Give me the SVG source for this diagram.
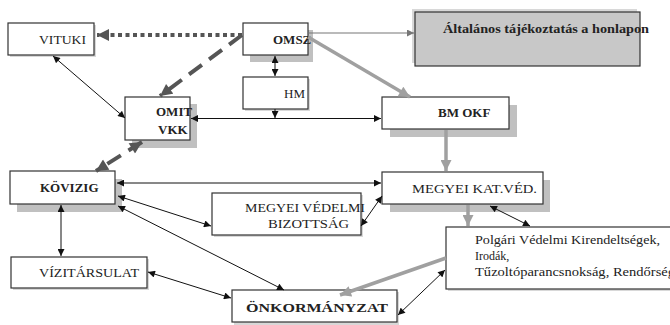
<svg xmlns="http://www.w3.org/2000/svg" width="670" height="325" viewBox="0 0 670 325" font-family="Liberation Serif, Times New Roman, serif">
<style>
.box{fill:#fff;stroke:#333;stroke-width:1.2}
.sh{fill:#c0c0c0}
.shl{fill:#d8d8d8}
text{font-size:13px;fill:#222}
.b{font-weight:bold}
.thin{stroke:#111;stroke-width:1;fill:none}
.gray{stroke:#a0a0a0;stroke-width:3.5;fill:none}
.dark{stroke:#555;stroke-width:4;fill:none}
</style>
<defs>
<marker id="a" viewBox="0 0 10 10" refX="10" refY="5" markerUnits="userSpaceOnUse" markerWidth="8" markerHeight="7" orient="auto"><path d="M0,0L10,5L0,10z" fill="#111"/></marker>
<marker id="as" viewBox="0 0 10 10" refX="0" refY="5" markerUnits="userSpaceOnUse" markerWidth="8" markerHeight="7" orient="auto"><path d="M10,0L0,5L10,10z" fill="#111"/></marker>
<marker id="ag" viewBox="0 0 10 10" refX="10" refY="5" markerUnits="userSpaceOnUse" markerWidth="12" markerHeight="11" orient="auto"><path d="M0,0L10,5L0,10z" fill="#a0a0a0"/></marker>
<marker id="ag2" viewBox="0 0 10 10" refX="10" refY="5" markerUnits="userSpaceOnUse" markerWidth="7" markerHeight="7" orient="auto"><path d="M0,0L10,5L0,10z" fill="#777"/></marker>
<marker id="ad" viewBox="0 0 10 10" refX="10" refY="5" markerUnits="userSpaceOnUse" markerWidth="13" markerHeight="12" orient="auto"><path d="M0,0L10,5L0,10z" fill="#555"/></marker>
<marker id="ads" viewBox="0 0 10 10" refX="0" refY="5" markerUnits="userSpaceOnUse" markerWidth="13" markerHeight="12" orient="auto"><path d="M10,0L0,5L10,10z" fill="#555"/></marker>
</defs>

<g id="vituki">
<rect class="shl" x="10" y="25" width="86" height="32"/>
<rect class="box" x="8" y="23" width="86" height="32"/>
<text x="39" y="44" textLength="47" lengthAdjust="spacingAndGlyphs">VITUKI</text>
</g>
<g id="omsz">
<rect class="sh" x="250" y="30" width="63" height="32"/>
<rect class="box" x="243" y="23" width="65" height="32"/>
<text class="b" x="273" y="44">OMSZ</text>
</g>
<g id="hm">
<rect class="shl" x="245" y="79" width="65" height="32"/>
<rect class="box" x="243" y="77" width="65" height="32"/>
<text x="284" y="98">HM</text>
</g>
<g id="omit">
<rect class="sh" x="132" y="104" width="65" height="44"/>
<rect class="box" x="125" y="97" width="65" height="43"/>
<text class="b" x="156" y="116">OMIT</text>
<text class="b" x="158" y="134">VKK</text>
</g>
<g id="bmokf">
<rect class="sh" x="390" y="105" width="127" height="32"/>
<rect class="box" x="382" y="97" width="127" height="32"/>
<text class="b" x="438" y="117">BM OKF</text>
</g>
<g id="altalanos">
<rect class="shl" x="412" y="9" width="225" height="54"/>
<rect x="415" y="12" width="225" height="54" fill="#c8c8c8" stroke="#333" stroke-width="1.2"/>
<text class="b" x="443" y="33" textLength="206" lengthAdjust="spacingAndGlyphs">Általános tájékoztatás a honlapon</text>
</g>
<g id="kovizig">
<rect class="sh" x="17" y="179" width="105" height="33"/>
<rect class="box" x="10" y="171" width="105" height="33"/>
<text class="b" x="40" y="192">KÖVIZIG</text>
</g>
<g id="mvb">
<rect class="shl" x="214" y="195" width="149" height="42"/>
<rect class="box" x="212" y="193" width="149" height="42"/>
<text x="245" y="212" textLength="120" lengthAdjust="spacingAndGlyphs">MEGYEI VÉDELMI</text>
<text x="268" y="228" textLength="81" lengthAdjust="spacingAndGlyphs">BIZOTTSÁG</text>
</g>
<g id="mkv">
<rect class="sh" x="390" y="180" width="160" height="32"/>
<rect class="box" x="382" y="172" width="161" height="32"/>
<text x="412" y="193" textLength="125" lengthAdjust="spacingAndGlyphs">MEGYEI KAT.VÉD.</text>
</g>
<g id="polgari">
<rect class="shl" x="448" y="229" width="230" height="62"/>
<rect class="box" x="446" y="227" width="230" height="62"/>
<text x="475" y="244" style="font-size:12px" textLength="185" lengthAdjust="spacingAndGlyphs">Polgári Védelmi Kirendeltségek,</text>
<text x="475" y="260" style="font-size:12px">Irodák,</text>
<text x="475" y="276" style="font-size:12px" textLength="200" lengthAdjust="spacingAndGlyphs">Tűzoltóparancsnokság, Rendőrség</text>
</g>
<g id="vizitarsulat">
<rect class="shl" x="13" y="259" width="136" height="31"/>
<rect class="box" x="11" y="257" width="136" height="31"/>
<text x="39" y="277" textLength="100" lengthAdjust="spacingAndGlyphs">VÍZITÁRSULAT</text>
</g>
<g id="onkormanyzat">
<rect class="shl" x="234" y="292" width="165" height="33"/>
<rect class="box" x="232" y="290" width="165" height="32"/>
<text class="b" x="246" y="312" textLength="142" lengthAdjust="spacingAndGlyphs">ÖNKORMÁNYZAT</text>
</g>

<g id="connectors">
<line class="dark" x1="242" y1="35" x2="97" y2="35" stroke-dasharray="4 3.5" marker-end="url(#ad)"/>
<line x1="308" y1="33" x2="414" y2="33" stroke="#777" stroke-width="1.2" marker-end="url(#ag2)"/>
<line class="gray" x1="308" y1="37" x2="410" y2="97" marker-end="url(#ag)"/>
<line class="dark" x1="242" y1="35" x2="160" y2="96" stroke-dasharray="16 9" marker-end="url(#ad)"/>
<line class="dark" x1="142" y1="142" x2="96" y2="171" stroke-dasharray="16 9" marker-start="url(#ads)" marker-end="url(#ad)"/>
<line class="thin" x1="53" y1="56" x2="125" y2="118" marker-start="url(#as)" marker-end="url(#a)"/>
<line class="thin" x1="275" y1="56" x2="275" y2="76" marker-start="url(#as)" marker-end="url(#a)"/>
<line class="thin" x1="275" y1="109" x2="275" y2="118" marker-end="url(#a)"/>
<line class="thin" x1="191" y1="118.5" x2="381" y2="118.5" marker-start="url(#as)" marker-end="url(#a)"/>
<line class="gray" x1="446" y1="130" x2="446" y2="171" marker-end="url(#ag)"/>
<line class="thin" x1="117" y1="183" x2="381" y2="183" marker-start="url(#as)" marker-end="url(#a)"/>
<line class="thin" x1="118" y1="196" x2="211" y2="226" marker-start="url(#as)" marker-end="url(#a)"/>
<line class="thin" x1="361" y1="226" x2="382" y2="196" marker-start="url(#as)" marker-end="url(#a)"/>
<line class="thin" x1="118" y1="206" x2="284" y2="290" marker-start="url(#as)" marker-end="url(#a)"/>
<line class="thin" x1="61" y1="205" x2="61" y2="256" marker-start="url(#as)" marker-end="url(#a)"/>
<line class="thin" x1="148" y1="272" x2="231" y2="298" marker-start="url(#as)" marker-end="url(#a)"/>
<line class="gray" x1="468" y1="205" x2="468" y2="226" marker-end="url(#ag)"/>
<line class="thin" x1="490" y1="206" x2="530" y2="226" marker-start="url(#as)" marker-end="url(#a)"/>
<line class="gray" x1="446" y1="258" x2="340" y2="295" marker-end="url(#ag)"/>
<line class="thin" x1="445" y1="270" x2="398" y2="315" marker-start="url(#as)" marker-end="url(#a)"/>
</g>
</svg>
